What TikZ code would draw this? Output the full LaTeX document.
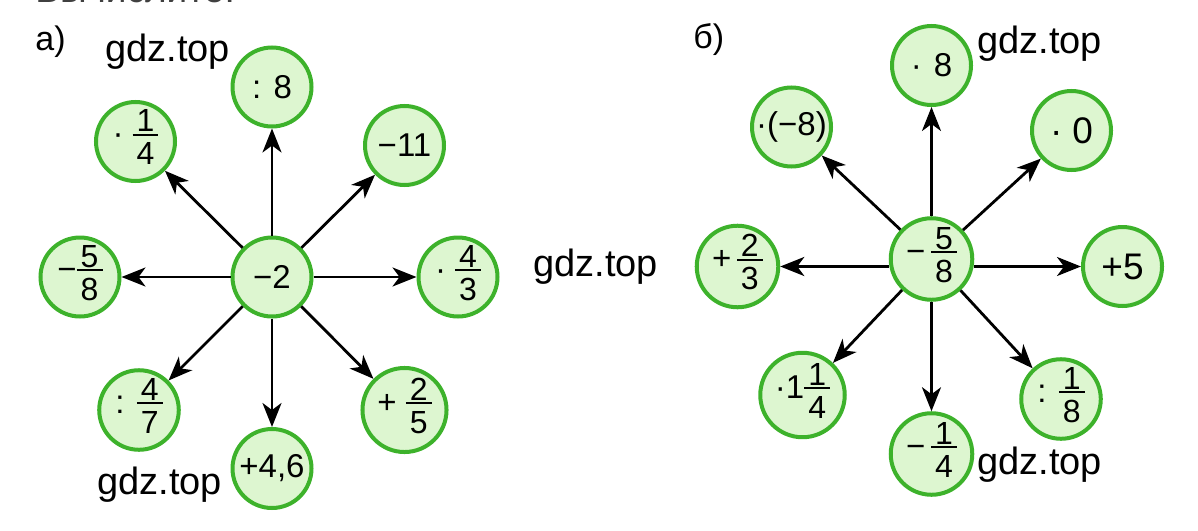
\documentclass[tikz,border=0pt]{standalone}
\usepackage{fontspec}
\setmainfont{Liberation Sans}
\usepackage{tikz}
\usetikzlibrary{arrows.meta}
\definecolor{ring}{HTML}{3DB22B}
\definecolor{lightring}{HTML}{DDF6D0}
\definecolor{headgrey}{HTML}{404040}
\setlength\arrayrulewidth{0.9pt}
\newcommand\fracsize{\fontsize{16}{15}\selectfont}
\newcommand\fr[2]{\raisebox{-10pt}{\fracsize\begin{tabular}[b]{@{\hspace{2pt}}c@{\hspace{2pt}}}\fracsize#1\\[-3.4pt]\hline\fracsize\rule{0pt}{14.5pt}#2\end{tabular}}}
\tikzset{
  opnode/.style={circle,draw=ring,fill=lightring,line width=2pt,minimum size=39.5pt,inner sep=0pt,font=\fontsize{16.5}{18}\selectfont},
  bignum/.style={font=\fontsize{18.5}{20}\selectfont},
  flow/.style={-{Stealth[length=12pt,width=9.5pt,inset=3.5pt]},line width=1.4pt},
  wmark/.style={anchor=base west,inner sep=0pt,font=\fontsize{19}{22}\selectfont},
  partlbl/.style={anchor=base west,inner sep=0pt,font=\fontsize{17}{20}\selectfont}}

\begin{document}
\begin{tikzpicture}[x=0.5pt,y=-0.5pt]
  \useasboundingbox (0,0) rectangle (1198,530);
  \begin{scope}
    \clip (0,0) rectangle (1198,530);
    \node[anchor=base west,inner sep=0pt,font=\fontsize{18.5}{22}\selectfont,text=headgrey] (head) at (35,3) {Вычислите:};
  \end{scope}

  \node[partlbl] (pa) at (35,50) {а)};
  \node[opnode] (l0) at (272,277)   {−2};
  \node[opnode] (l1) at (272,87)    {: 8};
  \node[opnode] (l2) at (404.5,145.5) {−11};
  \node[opnode] (l3) at (458,277)   {· \fr{4}{3}};
  \node[opnode] (l4) at (404.5,410) {+ \fr{2}{5}};
  \node[opnode] (l5) at (272,468.5) {+4,6};
  \node[opnode] (l6) at (139,410)   {: \fr{4}{7}};
  \node[opnode] (l7) at (80,277)    {−\fr{5}{8}};
  \node[opnode] (l8) at (135.5,141.5) {· \fr{1}{4}};
  \foreach \p in {l1,l2,l3,l4,l5,l6,l7,l8}{\draw[flow] (l0) -- (\p);}

  \node[partlbl] (pb) at (693,48) {б)};
  \node[opnode] (r0) at (931.5,259)   {−\,\fr{5}{8}};
  \node[opnode] (r1) at (931.5,65.5)  {·\hspace{6pt}8};
  \node[opnode,bignum] (r2) at (1071.5,130.5) {·\hspace{5pt}0};
  \node[opnode,bignum] (r3) at (1122.5,266.5) {+5};
  \node[opnode] (r4) at (1061,399)    {: \fr{1}{8}};
  \node[opnode] (r5) at (931.5,454)   {−\,\fr{1}{4}};
  \node[opnode] (r6) at (802.5,395)   {·1\fr{1}{4}};
  \node[opnode] (r7) at (737.5,266.5) {+\,\fr{2}{3}};
  \node[opnode] (r8) at (791.5,127)   {·(−8)};
  \foreach \p in {r1,r2,r4,r5,r6,r8}{\draw[flow] (r0) -- (\p);}
  \draw[flow] (r7 -| r0.west) -- (r7);
  \draw[flow] (r3 -| r0.east) -- (r3);

  \node[wmark] (w1) at (105,61)  {gdz.top};
  \node[wmark] (w2) at (97,494)  {gdz.top};
  \node[wmark] (w3) at (533,276) {gdz.top};
  \node[wmark] (w4) at (977,54)  {gdz.top};
  \node[wmark] (w5) at (977,474) {gdz.top};
\end{tikzpicture}
\end{document}
